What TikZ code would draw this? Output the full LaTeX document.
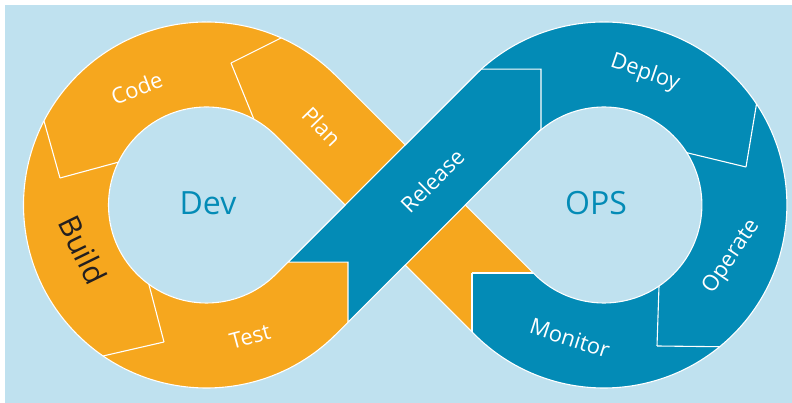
\documentclass[tikz,border=0pt]{standalone}
\usepackage{fontspec}
\setmainfont{Open Sans}
\definecolor{devorange}{RGB}{246,167,30}
\definecolor{opsblue}{RGB}{3,139,182}
\definecolor{paleblue}{RGB}{191,225,239}
\definecolor{buildink}{RGB}{35,31,32}

% the figure eight band with its two teardrop holes
\newcommand{\infpath}{%
  (335.9,327.4) arc[start angle=45,end angle=315,radius=183]
  -- (405.2,137.9) -- (474.5,68.6)
  arc[start angle=225,end angle=495,radius=183]
  -- (405.2,258.1) -- cycle
  (275.8,267.3) arc[start angle=45,end angle=315,radius=98]
  -- (345.1,198) -- cycle
  (534.6,128.7) arc[start angle=225,end angle=495,radius=98]
  -- (465.3,198) -- cycle}

\begin{document}
\begin{tikzpicture}[x=1pt,y=1pt,
    cut/.style={draw=white,line width=1.1pt,shorten >=-5pt},
    lbl/.style={text=white,font=\fontsize{22}{22}\selectfont},
    hub/.style={text=opsblue,font=\fontsize{32}{32}\selectfont}]

  \useasboundingbox (0,0) rectangle (792,403);
  \fill[paleblue] (5,0) rectangle (792,398);

  \begin{scope}[even odd rule]
    \clip \infpath;
    \fill[opsblue] (0,0) rectangle (792,403);
    \fill[devorange] (0,0) rectangle (405.2,403);
    % plan band, running under release down to the monitor tip
    \fill[devorange] (335.9,327.4) -- (533.3,130) -- (472,130) -- (472,71.1)
      -- (275.8,267.3) -- cycle;
    % release band on top
    \filldraw[fill=opsblue,draw=white,line width=1.1pt] (287.9,140.8) -- (348,140.8)
      -- (348,80.7) -- (541,273.7) -- (541,333.8) -- (480.9,333.8) -- cycle;
    % arrow cuts between the steps
    \draw[cut] (231,340) -- (279,364);  \draw[cut] (231,340) -- (253,286);
    \draw[cut] (60,225) -- (44,282);    \draw[cut] (60,225) -- (119,241);
    \draw[cut] (164,61) -- (103,47);    \draw[cut] (164,61) -- (148,122);
    \draw[cut] (746,236) -- (756,296);  \draw[cut] (746,236) -- (688,250);
    \draw[cut] (657,57) -- (717,56.3);  \draw[cut] (657,57) -- (659,117);
    \draw[cut] (472,130) -- (533.3,130); \draw[cut] (472,130) -- (472,71.1);
  \end{scope}
  \draw[white,line width=1.1pt] \infpath;

  \node[hub] (dev) at (208,200) {Dev};
  \node[hub] (ops) at (596,200) {OPS};

  \node[lbl,rotate=-46] (plan) at (321.7,276.3) {Plan};
  \node[lbl,rotate=21] (code) at (136.7,314.7) {Code};
  \node[lbl,rotate=-64,text=buildink,font=\fontsize{30}{30}\selectfont] (build) at (83,153) {Build};
  \node[lbl,rotate=15] (test) at (250,66.3) {Test};
  \node[lbl,rotate=45] (release) at (432.3,222.3) {Release};
  \node[lbl,rotate=-19] (deploy) at (645,330) {Deploy};
  \node[lbl,rotate=56] (operate) at (731.7,146.3) {Operate};
  \node[lbl,rotate=-18] (monitor) at (570,65) {Monitor};
\end{tikzpicture}
\end{document}
